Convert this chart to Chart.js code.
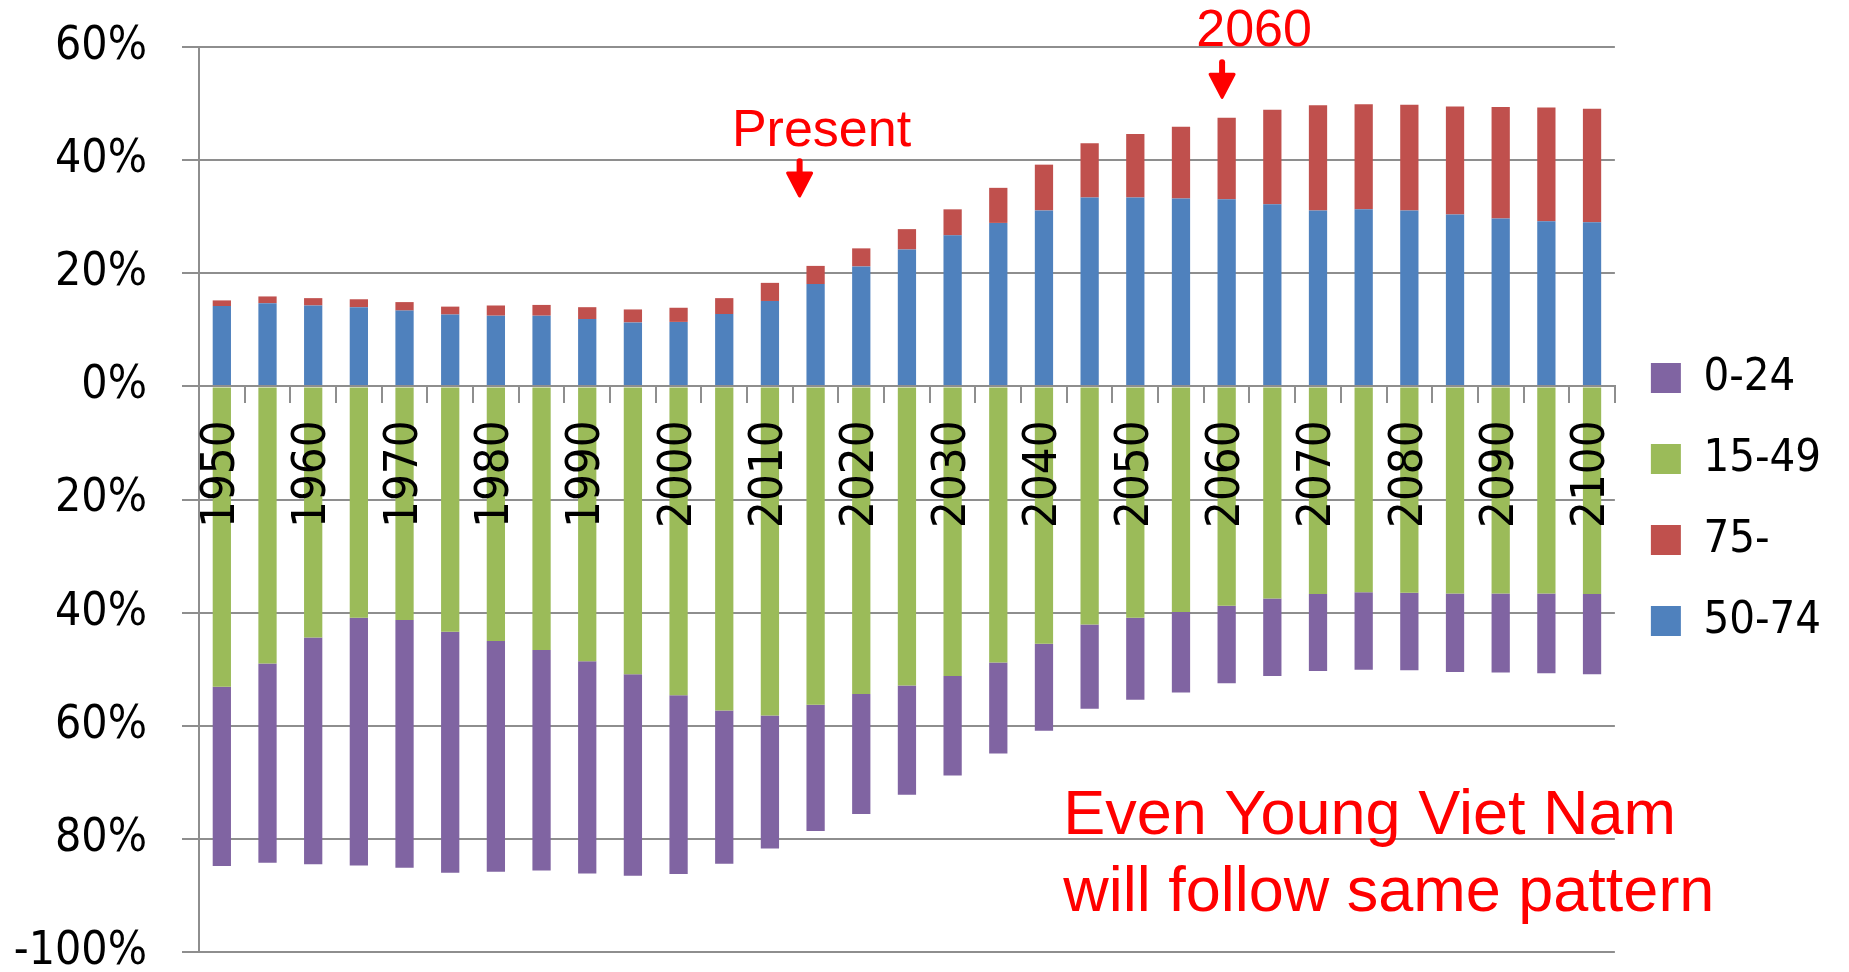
<!DOCTYPE html>
<html>
<head>
<meta charset="utf-8">
<title>Even Young Viet Nam</title>
<script src="https://cdn.jsdelivr.net/npm/chart.js@4/dist/chart.umd.min.js"></script>
<style>
  html, body { margin: 0; padding: 0; background: #fff; }
  canvas { display: block; }
</style>
</head>
<body>
<canvas id="chart" width="1849" height="972"></canvas>
<script>
// years on the x axis (every 5 years, labels shown every 10)
const years = ['1950','1955','1960','1965','1970','1975','1980','1985','1990','1995','2000','2005','2010','2015','2020',
  '2025','2030','2035','2040','2045','2050','2055','2060','2065','2070','2075','2080','2085','2090','2095','2100'];

// share of population, % (upward stack)
const age50to74 = [14.2,14.7,14.3,14.0,13.4,12.7,12.5,12.5,11.9,11.3,11.4,12.8,15.1,18.1,21.2,
  24.2,26.7,28.9,31.1,33.4,33.4,33.2,33.1,32.2,31.1,31.3,31.1,30.4,29.7,29.2,29.0];
const age75plus = [1.0,1.2,1.3,1.4,1.5,1.4,1.8,1.9,2.1,2.3,2.5,2.8,3.2,3.2,3.2,
  3.6,4.6,6.2,8.1,9.6,11.2,12.7,14.4,16.7,18.6,18.6,18.7,19.1,19.7,20.1,20.1];

// downward stack (drawn as negative values)
const age15to49 = [-53.1,-49.0,-44.4,-40.9,-41.3,-43.4,-45.0,-46.6,-48.6,-50.9,-54.6,-57.3,-58.2,-56.3,-54.4,
  -52.9,-51.2,-48.8,-45.5,-42.1,-40.9,-39.9,-38.8,-37.5,-36.7,-36.4,-36.5,-36.6,-36.6,-36.6,-36.7];
const age0to24 = [-31.7,-35.2,-40.1,-43.8,-43.8,-42.6,-40.8,-39.0,-37.5,-35.6,-31.6,-27.1,-23.5,-22.3,-21.2,
  -19.3,-17.6,-16.1,-15.4,-14.9,-14.5,-14.2,-13.7,-13.7,-13.6,-13.7,-13.7,-13.9,-14.0,-14.1,-14.2];

const yTicks = [-100,-80,-60,-40,-20,0,20,40,60];

// red notes: text, x (category index), y (value)
const notes = [
  { text: 'Present', x: 13.13, y: 42.5, align: 'center', size: 52 },
  { text: '2060', x: 22.6, y: 60.1, align: 'center', size: 52 },
  { text: 'Even Young Viet Nam', x: 18.42, y: -79.1, align: 'left', size: 63 },
  { text: 'will follow same pattern', x: 18.42, y: -92.7, align: 'left', size: 63 }
];
const arrows = [
  { x: 12.65, from: 39.8, to: 33.65 },
  { x: 21.9, from: 57.3, to: 51.1 }
];

const axisFont = 'DejaVu Sans Condensed, DejaVu Sans, sans-serif';
const gray = '#8e8e8e';

const notesPlugin = {
  id: 'notes',
  afterDraw(chart) {
    const ctx = chart.ctx, xs = chart.scales.x, ys = chart.scales.y;
    ctx.save();
    ctx.fillStyle = '#ff0000';
    ctx.strokeStyle = '#ff0000';
    ctx.textBaseline = 'alphabetic';
    notes.forEach(n => {
      ctx.font = n.size + 'px "Liberation Sans", Arial, sans-serif';
      ctx.textAlign = n.align;
      ctx.fillText(n.text, xs.getPixelForValue(n.x), ys.getPixelForValue(n.y));
    });
    arrows.forEach(a => {
      const x = xs.getPixelForValue(a.x);
      const y1 = ys.getPixelForValue(a.from), y2 = ys.getPixelForValue(a.to);
      ctx.lineWidth = 6;
      ctx.lineCap = 'round';
      ctx.beginPath();
      ctx.moveTo(x, y1);
      ctx.lineTo(x, y2 - 14);
      ctx.stroke();
      ctx.lineJoin = 'round';
      ctx.lineWidth = 3;
      ctx.beginPath();
      ctx.moveTo(x - 12, y2 - 23);
      ctx.lineTo(x + 12, y2 - 23);
      ctx.lineTo(x, y2);
      ctx.closePath();
      ctx.fill();
      ctx.stroke();
    });
    ctx.restore();
  }
};

new Chart(document.getElementById('chart'), {
  type: 'bar',
  data: {
    labels: years,
    datasets: [
      { label: '50-74', data: age50to74, backgroundColor: '#4F81BD' },
      { label: '75-', data: age75plus, backgroundColor: '#C0504D' },
      { label: '15-49', data: age15to49, backgroundColor: '#9BBB59' },
      { label: '0-24', data: age0to24, backgroundColor: '#8064A2' }
    ]
  },
  options: {
    responsive: false,
    animation: false,
    barPercentage: 0.4,
    categoryPercentage: 1.0,
    layout: { padding: { top: 47, bottom: 20, left: 0, right: 18 } },
    plugins: {
      tooltip: { enabled: false },
      legend: {
        position: 'right',
        reverse: true,
        labels: {
          boxWidth: 30, boxHeight: 30, padding: 36, color: '#000',
          font: { family: axisFont, size: 45 }
        }
      }
    },
    scales: {
      x: {
        stacked: true,
        position: { y: 0 },
        grid: { drawOnChartArea: false, tickLength: 16, color: gray, lineWidth: 2, offset: true },
        border: { color: gray, width: 2, z: 1 },
        ticks: {
          z: 1,
          autoSkip: false, minRotation: 90, maxRotation: 90, padding: 18, color: '#000',
          font: { family: axisFont, size: 47 },
          callback: function (v, i) { return i % 2 === 0 ? this.getLabelForValue(v) : ''; }
        }
      },
      y: {
        stacked: true,
        min: -100, max: 60,
        afterBuildTicks: s => { s.ticks = yTicks.map(v => ({ value: v })); },
        afterFit: s => { s.width = 199; s.paddingTop = 0; s.paddingBottom = 0; },
        grid: { color: gray, lineWidth: 2, tickLength: 17 },
        border: { color: gray, width: 2 },
        ticks: {
          padding: 35, color: '#000',
          font: { family: axisFont, size: 46 },
          callback: v => v === -100 ? '-100%' : Math.abs(v) + '%'
        }
      }
    }
  },
  plugins: [notesPlugin]
});
</script>
</body>
</html>
